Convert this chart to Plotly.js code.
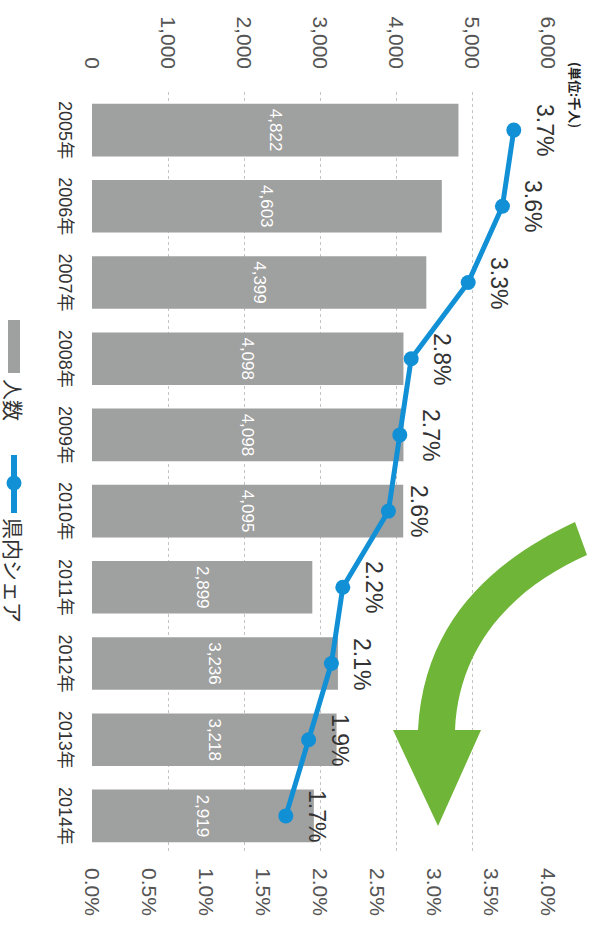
<!DOCTYPE html>
<html><head><meta charset="utf-8">
<script src="https://cdn.plot.ly/plotly-3.0.1.min.js"></script>
<style>
html,body{margin:0;padding:0;background:#fff;width:589px;height:927px;overflow:hidden}
#c{position:absolute;left:0;top:0;width:927px;height:589px;transform-origin:0 0;transform:translate(589px,0) rotate(90deg)}
</style></head><body><div id="c"></div>
<script>
const categories = ['2005年','2006年','2007年','2008年','2009年','2010年','2011年','2012年','2013年','2014年'];
const people = [4822, 4603, 4399, 4098, 4098, 4095, 2899, 3236, 3218, 2919];
const share = [3.7, 3.6, 3.3, 2.8, 2.7, 2.6, 2.2, 2.1, 1.9, 1.7];
const barName = '人数';
const lineName = '県内シェア';
const unitLabel = '(単位:千人)';

const W = 927, H = 589, ML = 92, MR = 73, MT = 41, MB = 92;
const PW = W - ML - MR, PH = H - MT - MB;
const font = 'Liberation Sans, Arial, Noto Sans CJK JP, sans-serif';
const jfont = 'Noto Sans CJK JP, sans-serif';
const barColor = '#9fa0a0', lineColor = '#1190d6';

// pixel (unrotated) -> paper helpers for decorations
const pxX = u => (u - ML) / PW;
const pxY = v => (H - MB - v) / PH;
function px(u, v){ return pxX(u).toFixed(4) + ',' + pxY(v).toFixed(4); }
const arrowPath = 'M' + px(522,14) + ' C' + px(560,95) + ' ' + px(620,165) + ' ' + px(730,171) +
  ' L' + px(730,196) + ' L' + px(826,151) + ' L' + px(730,108) + ' L' + px(730,134) +
  ' C' + px(640,130) + ' ' + px(585,70) + ' ' + px(555,2) + ' Z';

const traces = [
  {type:'bar', x:categories, y:people, name:barName, marker:{color:barColor},
   text:people.map(v => v.toLocaleString('en-US')), textposition:'inside', insidetextanchor:'middle',
   textangle:0, insidetextfont:{color:'#ffffff', size:17, family:font}, hoverinfo:'skip'},
  {type:'scatter', mode:'lines+markers', x:categories, y:share, yaxis:'y2', name:lineName,
   line:{color:lineColor, width:5}, marker:{color:lineColor, size:15}, hoverinfo:'skip'}
];

const annotations = share.map((s, i) => ({
  x: categories[i], y: s, xref:'x', yref:'y2', text: s.toFixed(1) + '%', showarrow:false,
  yshift: 31, font:{size:23, color:'#333', family:font}
}));
annotations.push({xref:'paper', yref:'paper', x:pxX(60), y:pxY(13), xanchor:'left', yanchor:'middle',
  text:'<b>' + unitLabel + '</b>', showarrow:false, font:{size:13, color:'#222', family:jfont}});
// legend texts
annotations.push({xref:'paper', yref:'paper', x:pxX(377), y:pxY(575), xanchor:'left', yanchor:'middle',
  text:barName, showarrow:false, font:{size:21, color:'#333', family:jfont}});
annotations.push({xref:'paper', yref:'paper', x:pxX(516), y:pxY(575), xanchor:'left', yanchor:'middle',
  text:lineName, showarrow:false, font:{size:21, color:'#333', family:jfont}});

const shapes = [
  {type:'path', xref:'paper', yref:'paper', path:arrowPath, fillcolor:'#6fb537', line:{width:0}, layer:'above'},
  // legend symbols
  {type:'rect', xref:'paper', yref:'paper', x0:pxX(320), x1:pxX(373), y0:pxY(569), y1:pxY(581), fillcolor:barColor, line:{width:0}},
  {type:'line', xref:'paper', yref:'paper', x0:pxX(455), x1:pxX(513), y0:pxY(575), y1:pxY(575), line:{color:lineColor, width:6}},
  {type:'circle', xref:'paper', yref:'paper', x0:pxX(475.5), x1:pxX(490.5), y0:pxY(567.5), y1:pxY(582.5), fillcolor:lineColor, line:{width:0}}
];

const layout = {
  width:W, height:H, margin:{l:ML, r:MR, t:MT, b:MB, autoexpand:false}, paper_bgcolor:'#fff', plot_bgcolor:'#fff',
  showlegend:false, bargap:0.31,
  xaxis:{type:'category', range:[-0.5, categories.length - 0.5], autorange:false,
    tickfont:{size:18, color:'#333', family:font}, ticks:'', showline:false, showgrid:false,
    ticklabelstandoff:14, automargin:false},
  yaxis:{range:[0,6000], dtick:1000, tickformat:',', showgrid:true, gridcolor:'#c4c4c4', griddash:'dot', gridwidth:1,
    zeroline:false, showline:false, tickfont:{size:21, color:'#555', family:font}, ticklabelstandoff:22, automargin:false},
  yaxis2:{overlaying:'y', side:'right', range:[0,4], dtick:0.5, tickformat:'.1f', ticksuffix:'%', showgrid:false,
    zeroline:false, showline:false, tickfont:{size:21, color:'#555', family:font}, ticklabelstandoff:13, automargin:false},
  shapes:shapes,
  annotations:annotations,
  font:{family:font}
};
Plotly.newPlot('c', traces, layout, {staticPlot:true});
</script></body></html>
